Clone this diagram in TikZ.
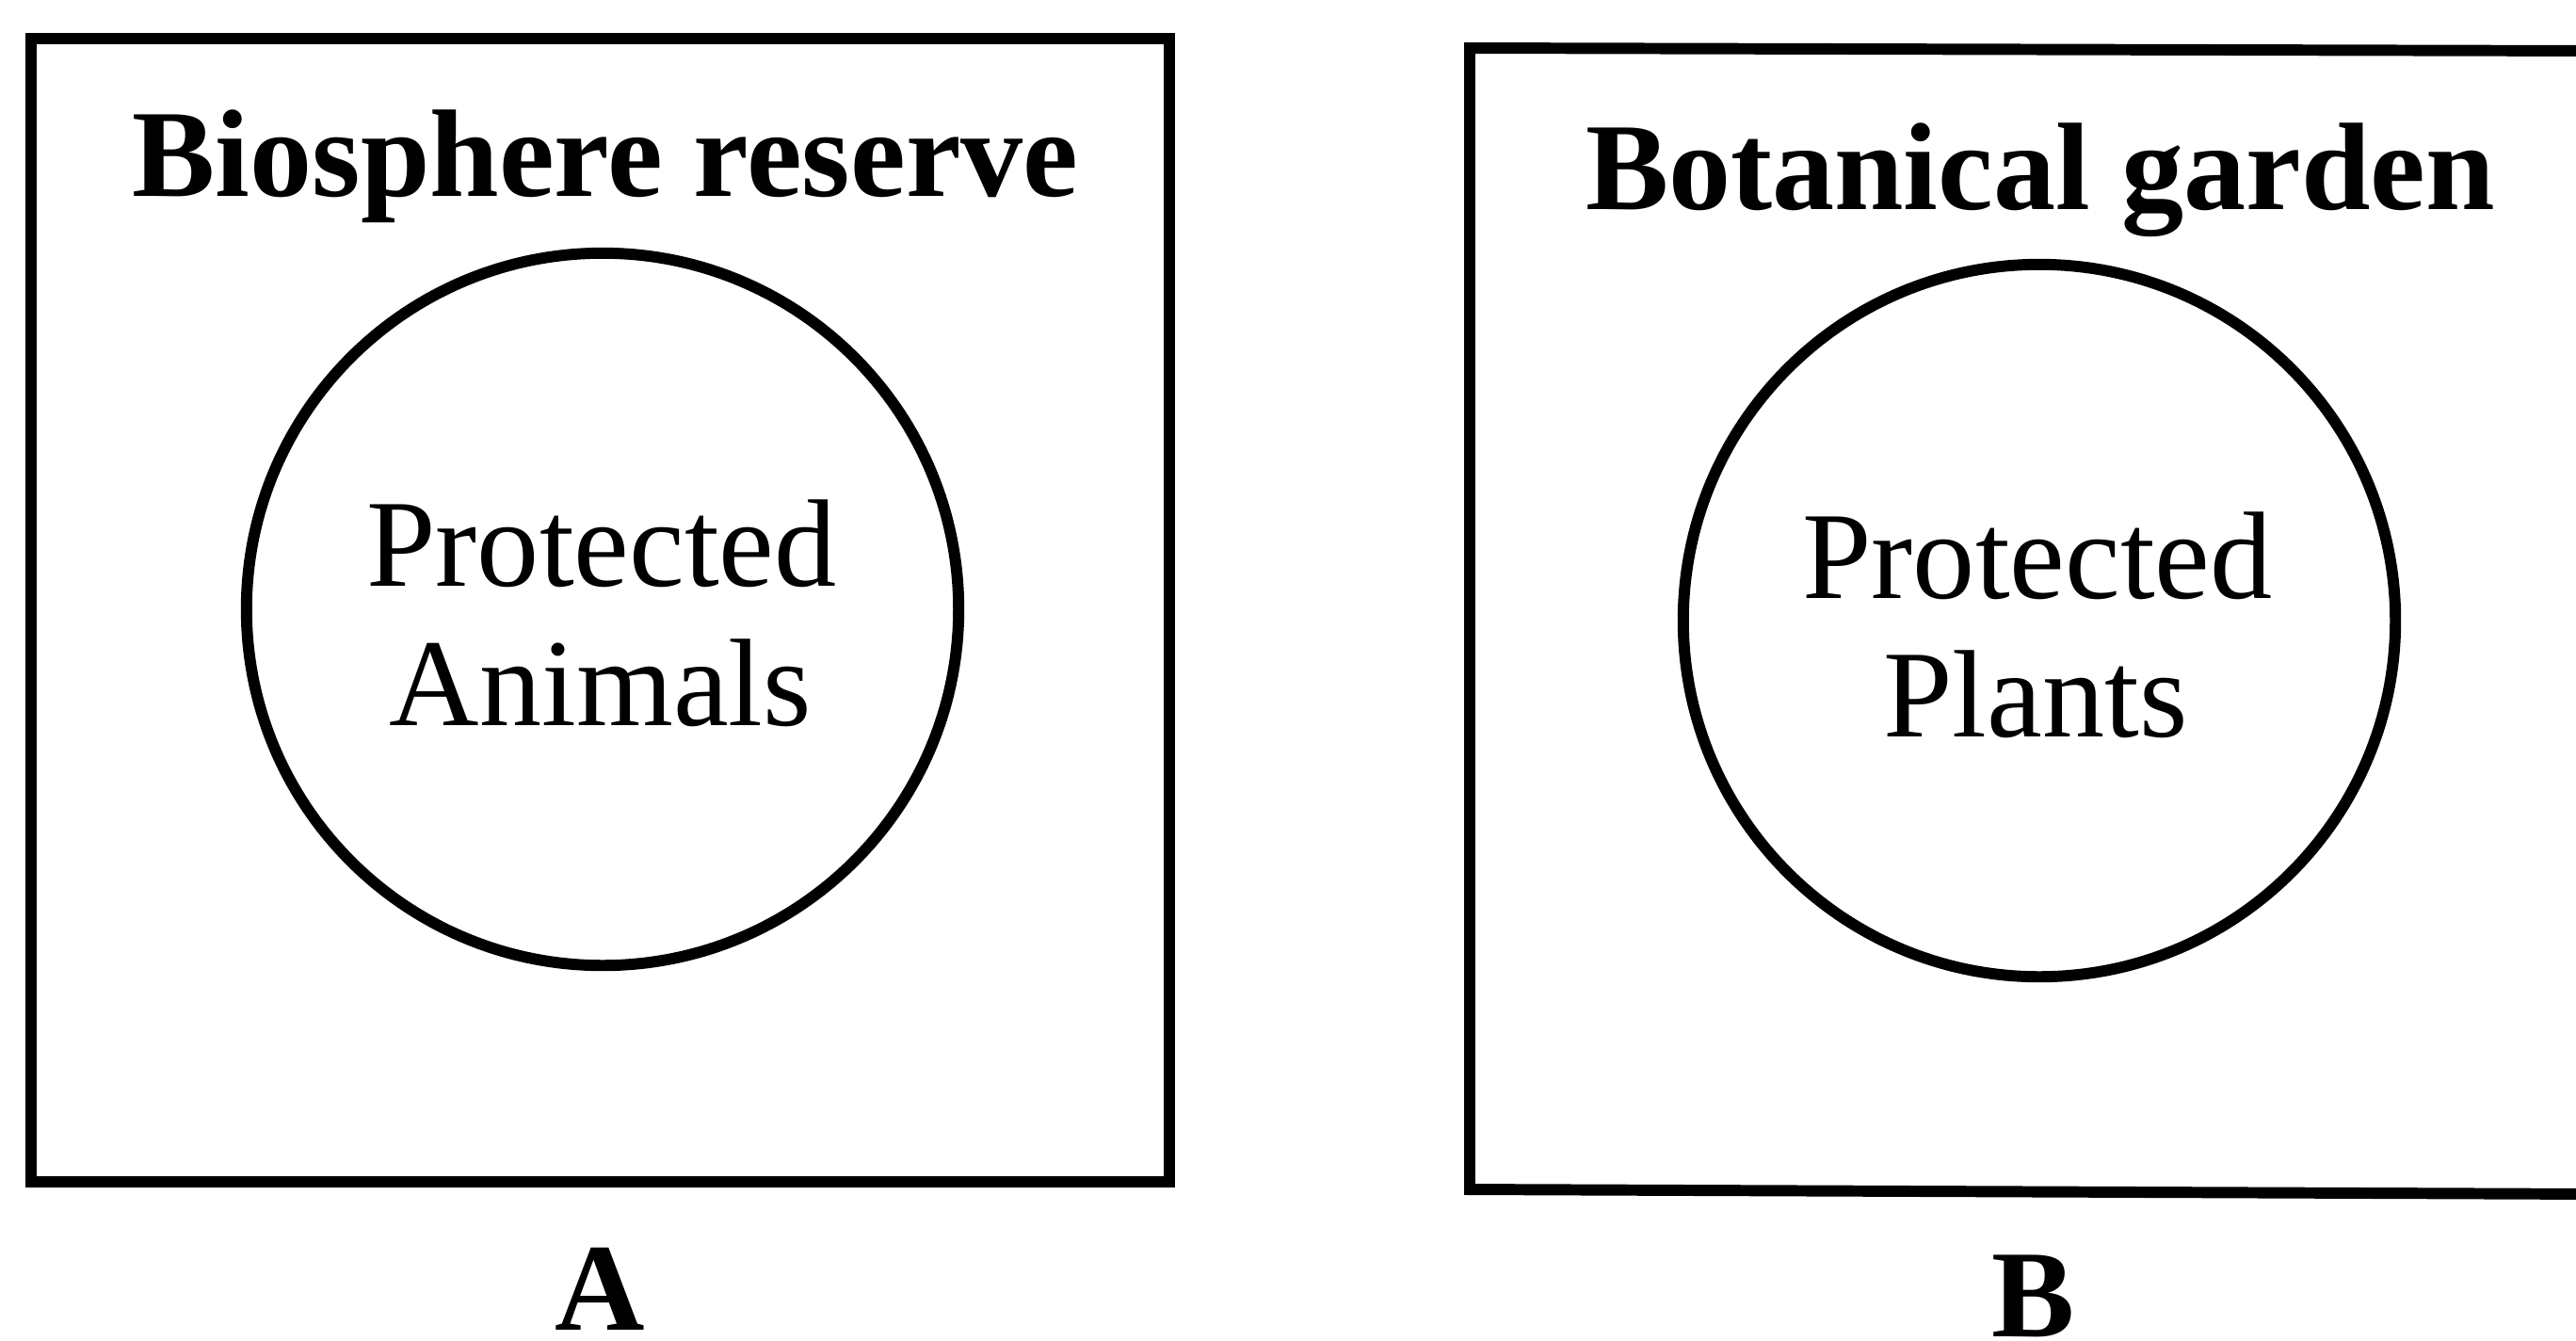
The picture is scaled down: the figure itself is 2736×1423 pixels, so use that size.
\documentclass[tikz,border=0pt]{standalone}
\usepackage{fontspec}
\setmainfont{Liberation Serif}
\begin{document}
\begin{tikzpicture}[
  x=0.01cm, y=-0.01cm,
  outline/.style={line width=3.4pt, draw=black},
  ring/.style={circle, outline, minimum size=7.56cm, inner sep=0pt},
  heading/.style={anchor=base, inner sep=0pt, font=\fontsize{37.6}{40}\selectfont\bfseries},
  body/.style={anchor=base, inner sep=0pt, font=\fontsize{37.6}{40}\selectfont},
  tag/.style={anchor=base, inner sep=0pt, font=\fontsize{37.6}{40}\selectfont\bfseries}
]
\useasboundingbox (0,0) rectangle (2736,1423);
\clip (0,0) rectangle (2736,1423);

% panel A: biosphere reserve
\coordinate (a1) at (33,41);
\coordinate (a2) at (1242,41);
\coordinate (a3) at (1242,1255);
\coordinate (a4) at (33,1255);
\draw[outline, line join=miter] (a1) -- (a2) -- (a3) -- (a4) -- cycle;
\node[heading] (titleA) at (643,208) {Biosphere reserve};
\node[ring] (circA) at (640,647) {};
\node[body] (protA) at (639,622) {Protected};
\node[body] (animA) at (638,770) {Animals};
\node[tag] (labA) at (637,1412) {A};

% panel B: botanical garden (right side runs past the edge)
\coordinate (b1) at (2760,54);
\coordinate (b2) at (1561,51);
\coordinate (b3) at (1561,1263);
\coordinate (b4) at (2760,1268);
\draw[outline, line join=miter] (b1) -- (b2) -- (b3) -- (b4);
\node[heading] (titleB) at (2167,222) {Botanical garden};
\node[ring] (circB) at (2166,659) {};
\node[body] (protB) at (2164,635) {Protected};
\node[body] (plantB) at (2162,782) {Plants};
\node[tag] (labB) at (2160,1419) {B};
\end{tikzpicture}
\end{document}
